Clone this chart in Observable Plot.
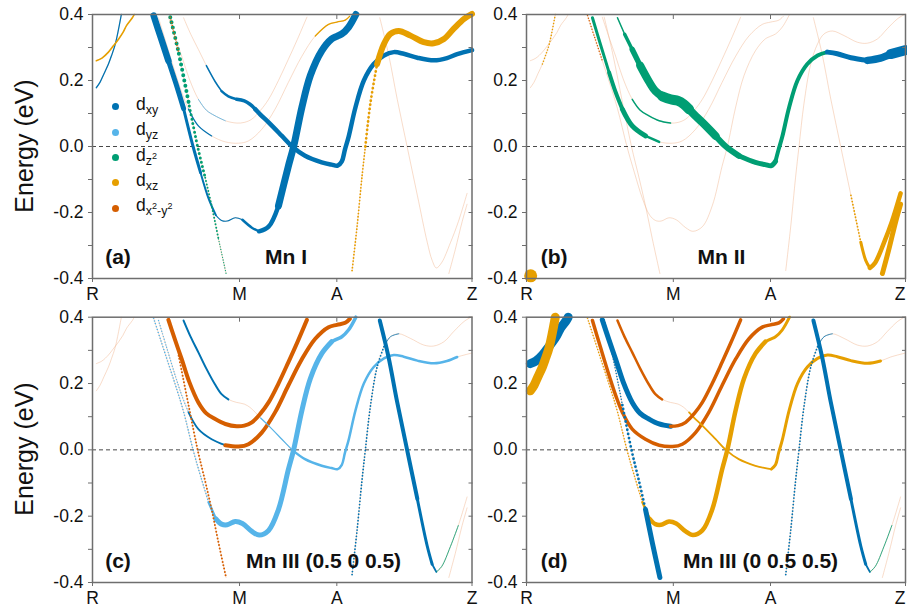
<!DOCTYPE html>
<html><head><meta charset="utf-8">
<script src="https://cdn.jsdelivr.net/npm/d3@7"></script>
<script src="https://cdn.jsdelivr.net/npm/@observablehq/plot@0.6"></script>
<style>
body{margin:0;background:#fff;}
#wrap{position:relative;width:907px;height:614px;overflow:hidden;font-family:"Liberation Sans",Arial,sans-serif;background:#fff;}
.panel{position:absolute;}
.ylab{position:absolute;left:24px;transform:translate(-50%,-50%) rotate(-90deg);font-size:25px;white-space:nowrap;color:#111;}
.leg{position:absolute;left:0;top:0;}
.leg .row{position:absolute;white-space:nowrap;font-size:17.5px;color:#111;}
.leg .dot{position:absolute;width:7px;height:7px;border-radius:50%;}
.leg sub{font-size:12.5px;vertical-align:-4px;}
.leg sup{font-size:9px;vertical-align:6px;}
</style></head>
<body>
<div id="wrap"></div>
<script>
// ---------- data ----------
const orbKeys = ["dxy","dyz","dz2","dxz","dx2y2"];
const orbColors = ["#0072B2","#56B4E9","#009E73","#E69F00","#D55E00"];
const orbLabels = ["d<sub>xy</sub>","d<sub>yz</sub>","d<sub>z<sup>2</sup></sub>","d<sub>xz</sub>","d<sub>x<sup>2</sup>-y<sup>2</sup></sub>"];

const kTicks = [0, 38.74, 64.38, 100];
const kLabels = ["R","M","A","Z"];
const yTicks = [-0.4,-0.3,-0.2,-0.1,0,0.1,0.2,0.3,0.4];
const yLabels = ["-0.4","","-0.2","","0.0","","0.2","","0.4"];

// bands: [k, E(eV)]
const bandR1 = [[1,0.178],[2,0.195],[3,0.22],[4.2,0.25],[5,0.275],[6,0.31],[7.6,0.40]];
const bandR2 = [[1,0.26],[2.5,0.268],[4.2,0.286],[5.5,0.305],[6.9,0.326],[8,0.345],[9,0.367],[10.5,0.39],[11,0.40]];
const bandV = [[16.1,0.397],[18,0.33],[20,0.26],[22,0.19],[24,0.115],[26.5,0.0],[28.5,-0.08],[30.6,-0.158],[32.5,-0.208],[34,-0.224],[35.5,-0.226],[37.6,-0.216],[39.5,-0.222],[42,-0.246],[43.9,-0.257],[46.4,-0.243],[49,-0.18],[51.6,-0.06],[53,0.0],[55.2,0.12],[57.4,0.215],[60.4,0.29],[63,0.326],[64.4,0.334],[65.7,0.341],[67.5,0.362],[69.4,0.40]];
const bandL = [[17.4,0.39],[19.5,0.31],[21.8,0.224],[23.5,0.165],[25.3,0.113],[27.9,0.0625],[31.4,0.032],[35,0.014],[38.5,0.010],[41.1,0.017],[44.6,0.052],[48.1,0.113],[51.6,0.194],[55.2,0.274],[58.7,0.335],[62.2,0.37],[64.4,0.377],[66.6,0.383],[67.8,0.395]];
const bandU1 = [[20,0.392],[21.8,0.33],[23.5,0.274],[25.5,0.205],[27.9,0.143],[30,0.11],[32.3,0.093],[35,0.078],[38,0.071],[40,0.073],[42,0.083],[44.3,0.11],[46.4,0.143],[49,0.2],[51.6,0.264],[54,0.325],[56.5,0.392]];
const bandW = [[24,0.39],[25.9,0.34],[27.9,0.294],[30,0.245],[32.3,0.197],[34,0.168],[35.8,0.152],[38,0.143],[40,0.138],[41.5,0.128],[42.9,0.113],[44.3,0.096],[46.4,0.073],[49.9,0.032],[52.6,0.0],[56,-0.028],[60.4,-0.048],[63,-0.055],[64.6,-0.058],[65.7,-0.045],[66.5,-0.01],[67.5,0.03],[69.3,0.119],[71.5,0.2],[74.1,0.25],[76.8,0.276],[79.4,0.286],[82,0.281],[85.6,0.269],[90,0.261],[93.4,0.268],[96.1,0.28],[100,0.292]];
const bandB3 = [[20.5,0.392],[22.7,0.284],[25.3,0.135],[27.7,0.0],[29.7,-0.095],[31.4,-0.18],[33.2,-0.28],[35.2,-0.385]];
const bandD = [[75.7,0.39],[78,0.28],[80.3,0.143],[82.9,0.0],[85.6,-0.148],[88.2,-0.29],[89.5,-0.345],[90.6,-0.368],[92,-0.352],[94.3,-0.292],[96.4,-0.228],[98.7,-0.142]];
const bandE = [[68.4,-0.376],[69.7,-0.244],[71,-0.093],[71.9,0.0],[73.2,0.129],[75,0.25],[76.8,0.311],[78.5,0.341],[80.7,0.35],[83.8,0.336],[87.3,0.316],[89.9,0.313],[92.6,0.326],[95.2,0.357],[97.9,0.387],[100,0.402]];
const bandF = [[93.9,-0.385],[95.6,-0.312],[97.4,-0.228],[98.7,-0.175]];

// orbital-projected weights: [band, orbital, k from, k to, weight, dotted?]
const fatA = [
 ["R1","dxy",1,7.6,1.3],["R2","dxz",1,11,1.6],
 ["V","dxy",16.1,20,6.5],["V","dxy",20,24,5],["V","dxy",24,28.5,3],["V","dxy",28.5,32.5,2],["V","dxy",32.5,39.5,1.1],["V","dxy",39.5,43.9,2.5],["V","dxy",43.9,49,4.5],["V","dxy",49,69.4,7],
 ["L","dxy",25.3,31.4,1.3],["L","dxz",58.7,67.8,1.3],
 ["U1","dyz",27.9,35,0.8],
 ["W","dxy",30,34,1.5],["W","dxy",34,38,2.5],["W","dxy",38,42.9,3.5],["W","dxy",42.9,100,4.5],
 ["B3","dz2",20.5,25.3,4,1],["B3","dz2",25.3,29.7,3,1],["B3","dz2",29.7,33.2,2,1],["B3","dz2",33.2,35.2,1.3,1],["B3","dx2y2",20.5,22.7,1.5,1],
 ["E","dxz",68.4,71.9,1.8,1],["E","dxz",71.9,75,2.8,1],["E","dxz",75,100,6]
];
const fatB = [
 ["R1","dxz",4.2,7.6,1.6,1],["V","dx2y2",16.1,20,1.5,1],
 ["L","dz2",17.4,21.8,3],["L","dz2",21.8,25.3,4],["L","dz2",25.3,31.4,5],["L","dz2",31.4,35,2.5],
 ["U1","dz2",27.9,38,1.5],
 ["W","dz2",24,25.9,1.5],["W","dz2",25.9,27.9,3.5],["W","dz2",27.9,30,5.5],["W","dz2",30,35.8,8],["W","dz2",35.8,42.9,10],["W","dz2",42.9,49.9,8],["W","dz2",49.9,56,6],["W","dz2",56,65.7,5],["W","dz2",65.7,79.4,4],
 ["W","dxy",79.4,90,5],["W","dxy",90,96.1,7.5],["W","dxy",96.1,100,10],
 ["D","dxz",85.6,88.2,1.8,1],["D","dxz",88.2,90.6,3],["D","dxz",90.6,98.7,4.5],
 ["F","dxz",93.9,98.7,5]
];
const blobB = [[1.1,-0.392,"dxz"]];
const fatC = [
 ["V","dyz",16.1,30.6,1.6,1],["V","dyz",30.6,32.5,2.5],["V","dyz",32.5,63,5],["V","dyz",63,69.4,3.5],
 ["L","dyz",17.4,25.3,1.4,1],["L","dxy",25.3,35,1.8],["L","dx2y2",35,67.8,4],
 ["U1","dx2y2",20,56.5,4],
 ["W","dxy",24,35.8,2],["W","dyz",44.3,52.6,1.2],["W","dyz",52.6,96.1,2.5],
 ["B3","dx2y2",22.7,35.2,2,1],
 ["D","dxy",75.7,85.6,4],["D","dxy",85.6,89.5,3],["D","dxy",89.5,90.6,1.8],["D","dz2",90.6,96.4,0.8],
 ["E","dxy",68.4,76.8,1.8,1],["E","dxy",76.8,80.7,0.8]
];
const fatD = [
 ["R2","dxy",1,11,9],["R1","dxz",1,7.6,9],
 ["V","dxz",16.1,30.6,1.6,1],["V","dxz",30.6,32.5,2.5],["V","dxz",32.5,63,4.5],["V","dxz",63,69.4,3],
 ["L","dx2y2",17.4,67.8,3.5],
 ["W","dx2y2",24,35.8,2.5],["W","dxz",42.9,64.6,1.8],["W","dxz",64.6,93.4,3],
 ["B3","dxy",20.5,25.3,1.5,1],["B3","dxy",25.3,31.4,2.8,1],["B3","dxy",31.4,35.2,5],
 ["U1","dxy",20,38,5],["U1","dx2y2",38,56.5,3.5],
 ["D","dxy",75.7,85.6,4],["D","dxy",85.6,89.5,3],["D","dxy",89.5,90.6,1.8],["D","dz2",90.6,96.4,0.8],
 ["E","dxy",68.4,76.8,1.8,1],["E","dxy",76.8,80.7,0.8]
];
const panelTags = ["(a)","(b)","(c)","(d)"];
const panelTitles = ["Mn I","Mn II","Mn III (0.5 0 0.5)","Mn III (0 0.5 0.5)"];

// ---------- drawing ----------
const bands = {R1:bandR1,R2:bandR2,V:bandV,L:bandL,U1:bandU1,W:bandW,B3:bandB3,D:bandD,E:bandE,F:bandF};
const orbColor = new Map(orbKeys.map((k,i)=>[k,orbColors[i]]));
const kLabelMap = new Map(kTicks.map((k,i)=>[k,kLabels[i]]));
const yLabelMap = new Map(yTicks.map((v,i)=>[v,yLabels[i]]));
const FONT = "Liberation Sans, Arial, sans-serif";

function makePanel(fat, dots, tag, title, L) {
  const marks = [];
  for (const pts of Object.values(bands)) {
    marks.push(Plot.line(pts, {x: d=>d[0], y: d=>d[1], stroke: "#f0ae86", strokeWidth: 0.8, strokeOpacity: 0.55, curve: "catmull-rom"}));
  }
  marks.push(Plot.ruleY([0], {stroke: "#333", strokeWidth: 0.9, strokeDasharray: "4,3"}));
  for (const [b, orb, k0, k1, w, dotted] of fat) {
    const pts = bands[b].filter(d => d[0] >= k0 - 1e-6 && d[0] <= k1 + 1e-6);
    marks.push(Plot.line(pts, {x: d=>d[0], y: d=>d[1], stroke: orbColor.get(orb), strokeWidth: w,
      strokeLinecap: "round", strokeLinejoin: "round", curve: "catmull-rom",
      strokeDasharray: dotted ? `0,${(w + 1.4).toFixed(2)}` : null}));
  }
  if (dots.length) marks.push(Plot.dot(dots, {x: d=>d[0], y: d=>d[1], r: 6.5, fill: d=>orbColor.get(d[2])}));
  marks.push(Plot.frame({stroke: "#6e6e6e", strokeWidth: 1.5}));
  marks.push(Plot.axisY(yTicks, {anchor: "left", tickSize: 4, tickPadding: 5, stroke: "#6e6e6e", fill: "#111",
    tickFormat: d => yLabelMap.get(d), fontSize: 17.5, label: null}));
  marks.push(Plot.axisY(yTicks, {anchor: "right", tickSize: 4, dx: -4, stroke: "#6e6e6e", tickFormat: () => "", label: null}));
  marks.push(Plot.axisX(kTicks.slice(1,3), {anchor: "top", tickSize: 4, dy: 4, stroke: "#6e6e6e", tickFormat: () => "", label: null}));
  marks.push(Plot.axisX(kTicks.slice(0,3), {anchor: "bottom", tickSize: 4, tickPadding: 5, stroke: "#6e6e6e", fill: "#111",
    tickFormat: d => kLabelMap.get(d), fontSize: 17.5, label: null}));
  marks.push(Plot.axisX(kTicks.slice(3), {anchor: "bottom", tickSize: 4, tickPadding: 5, stroke: "#6e6e6e", fill: "#111",
    tickFormat: d => kLabelMap.get(d), fontSize: 17.5, label: null, textAnchor: L.zAnchor}));
  marks.push(Plot.text([tag], {text: d=>d, frameAnchor: "bottom-left", dx: L.tagDx, dy: -14.4, lineAnchor: "bottom",
    textAnchor: "start", fontSize: 21, fontWeight: "bold", fill: "#111"}));
  marks.push(Plot.text([title], {text: d=>d, frameAnchor: "bottom-left", dx: L.titleDx, dy: -14.4, lineAnchor: "bottom",
    textAnchor: "middle", fontSize: 21, fontWeight: "bold", fill: "#111"}));
  const svg = Plot.plot({
    width: L.w, height: L.h,
    marginLeft: L.ml, marginRight: L.mr, marginTop: L.mt, marginBottom: L.mb,
    x: {domain: [0, 100], axis: null},
    y: {domain: [-0.4, 0.4], axis: null},
    style: {background: "transparent", overflow: "visible", fontFamily: FONT},
    marks
  });
  svg.classList.add("panel");
  svg.style.left = L.left + "px";
  svg.style.top = L.top + "px";
  svg.style.position = "absolute";
  return svg;
}

const wrap = document.getElementById("wrap");
const layouts = [
  {left:0, top:0, w:480, h:305, ml:92, mr:8.5, mt:14, mb:27, tagDx:12.7, titleDx:193.5, zAnchor:"middle"},
  {left:454, top:0, w:453, h:305, ml:72, mr:2, mt:14, mb:27, tagDx:14.3, titleDx:195, zAnchor:"end"},
  {left:0, top:302, w:480, h:310, ml:92, mr:8.5, mt:14.7, mb:30, tagDx:12.7, titleDx:231, zAnchor:"middle"},
  {left:454, top:302, w:453, h:310, ml:72, mr:2, mt:14.7, mb:30, tagDx:14.3, titleDx:234, zAnchor:"end"}
];
const fats = [fatA, fatB, fatC, fatD];
const dotsets = [[], blobB, [], []];
fats.forEach((f,i) => wrap.appendChild(makePanel(f, dotsets[i], panelTags[i], panelTitles[i], layouts[i])));

for (const cy of [146, 449]) {
  const d = document.createElement("div");
  d.className = "ylab"; d.style.top = cy + "px"; d.textContent = "Energy (eV)";
  wrap.appendChild(d);
}

const leg = document.createElement("div");
leg.className = "leg";
orbKeys.forEach((k,i) => {
  const cy = 106.7 + 25.4*i;
  const dot = document.createElement("div");
  dot.className = "dot"; dot.style.left = (115.7-3.5)+"px"; dot.style.top = (cy-3.5)+"px";
  dot.style.background = orbColors[i];
  leg.appendChild(dot);
  const row = document.createElement("div");
  row.className = "row"; row.style.left = "136px"; row.style.top = (cy-13)+"px";
  row.innerHTML = orbLabels[i];
  leg.appendChild(row);
});
wrap.appendChild(leg);
</script>
</body></html>
